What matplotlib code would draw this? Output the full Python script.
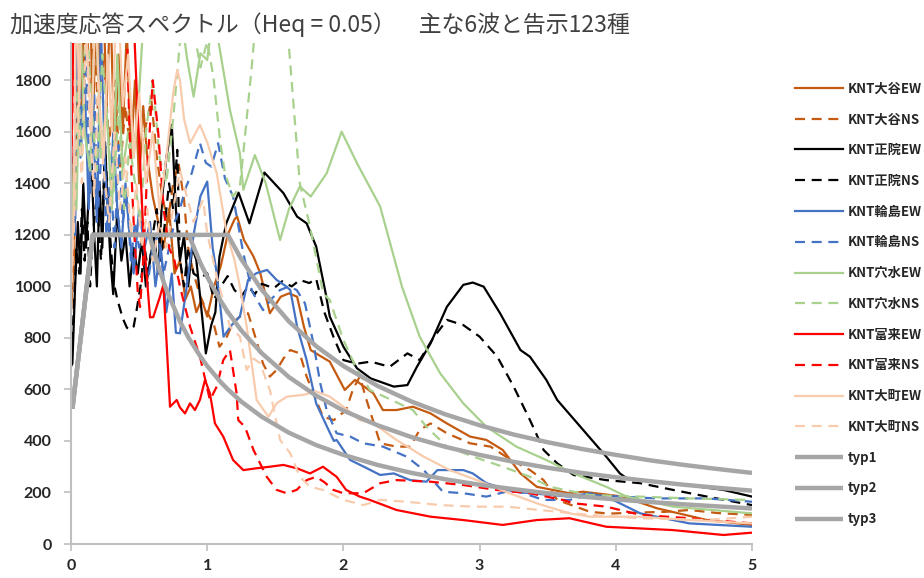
import matplotlib
matplotlib.use('Agg')
import matplotlib.pyplot as plt

# ---- data (period T [s], spectral acceleration [gal]) ----
oya_ew_t = [0, 0.02, 0.04, 0.06, 0.08, 0.10, 0.12, 0.14, 0.16, 0.18, 0.20, 0.23, 0.26, 0.29, 0.32, 0.35,
            0.38, 0.41, 0.44, 0.47, 0.50, 0.53, 0.56, 0.60, 0.64, 0.68, 0.72, 0.76, 0.80, 0.84, 0.88, 0.92,
            0.96, 1.0, 1.05, 1.1, 1.15, 1.2, 1.22, 1.27, 1.34, 1.39, 1.46, 1.54, 1.60, 1.66, 1.71, 1.76,
            1.83, 1.90, 2.01, 2.085, 2.22, 2.29, 2.39, 2.51, 2.64, 2.76, 2.93, 3.05, 3.17, 3.30, 3.42, 3.66,
            3.76, 4.05, 4.30, 4.67, 5.0]
oya_ew_v = [900, 1100, 1500, 2100, 1700, 2300, 1900, 2200, 1600, 2000, 1800, 2300, 1700, 2100, 1500, 1900,
            1600, 2000, 1500, 1800, 1400, 1700, 1500, 1350, 1250, 1150, 1300, 1050, 1100, 950, 1000, 900,
            950, 883, 1000, 1080, 1200, 1260, 1271, 1180, 1116, 1051, 896, 960, 973, 960, 844, 753,
            730, 708, 598, 637, 585, 520, 520, 533, 507, 468, 417, 404, 365, 274, 222, 197,
            203, 184, 139, 93, 74]

oya_ns_t = [0, 0.02, 0.05, 0.08, 0.11, 0.14, 0.17, 0.20, 0.24, 0.28, 0.32, 0.36, 0.40, 0.44, 0.48, 0.52,
            0.56, 0.59, 0.63, 0.67, 0.71, 0.75, 0.79, 0.83, 0.86, 0.90, 0.95, 1.0, 1.05, 1.09, 1.14, 1.19,
            1.24, 1.30, 1.36, 1.41, 1.46, 1.51, 1.56, 1.61, 1.68, 1.73, 1.78, 1.85, 1.93, 2.02, 2.07, 2.12,
            2.17, 2.27, 2.39, 2.49, 2.56, 2.64, 2.76, 2.93, 3.08, 3.22, 3.37, 3.47, 3.57, 3.81, 3.95, 4.15,
            4.37, 4.54, 4.75, 5.0]
oya_ns_v = [1050, 1400, 1900, 1600, 2100, 1750, 2000, 1650, 1900, 1550, 1800, 1450, 1700, 1500, 1600, 1550,
            1650, 1724, 1500, 1350, 1250, 1400, 1478, 1336, 1150, 1050, 960, 900, 850, 766, 800, 860,
            883, 896, 792, 700, 650, 676, 720, 753, 740, 650, 585, 494, 481, 520, 600, 650,
            559, 391, 378, 378, 443, 468, 430, 391, 378, 330, 287, 248, 171, 125, 118, 122,
            125, 132, 120, 113]

shoin_ew_t = [0, 0.01, 0.03, 0.05, 0.07, 0.09, 0.11, 0.13, 0.15, 0.17, 0.19, 0.21, 0.23, 0.25, 0.27, 0.29,
              0.31, 0.34, 0.37, 0.40, 0.43, 0.46, 0.49, 0.52, 0.55, 0.58, 0.61, 0.64, 0.67, 0.70, 0.74, 0.77,
              0.80, 0.83, 0.86, 0.89, 0.92, 0.95, 0.99, 1.03, 1.06, 1.09, 1.14, 1.23, 1.31, 1.42, 1.56, 1.66,
              1.73, 1.80, 1.87, 1.90, 2.0, 2.1, 2.2, 2.37, 2.47, 2.54, 2.64, 2.76, 2.88, 2.95, 3.03, 3.15,
              3.30, 3.37, 3.49, 3.57, 3.76, 3.93, 4.03, 4.08, 4.42, 4.79, 5.0]
shoin_ew_v = [690, 700, 1000, 1250, 1050, 1400, 1150, 1350, 1500, 1200, 1000, 1400, 1150, 1560, 1300, 1100,
              970, 1300, 1100, 1200, 1000, 1150, 1050, 1180, 1000, 1100, 1200, 1050, 1350, 1500, 1627, 1300,
              1100, 1200, 1000, 1150, 1103, 950, 740, 850, 900, 1116, 1245, 1364, 1245, 1442, 1362, 1271,
              1245, 1155, 973, 883, 766, 682, 643, 611, 617, 688, 779, 921, 1006, 1015, 999, 896,
              753, 727, 637, 559, 443, 339, 274, 255, 236, 210, 184]

shoin_ns_t = [0, 0.02, 0.04, 0.06, 0.08, 0.10, 0.12, 0.14, 0.16, 0.19, 0.22, 0.25, 0.28, 0.31, 0.34, 0.38,
              0.41, 0.43, 0.46, 0.48, 0.51, 0.54, 0.57, 0.60, 0.63, 0.66, 0.69, 0.72, 0.75, 0.78, 0.80, 0.83,
              0.86, 0.90, 0.95, 1.0, 1.05, 1.10, 1.15, 1.20, 1.25, 1.30, 1.35, 1.40, 1.49, 1.55, 1.62, 1.68,
              1.75, 1.80, 1.86, 1.93, 2.0, 2.1, 2.2, 2.34, 2.47, 2.56, 2.66, 2.76, 2.88, 3.0, 3.13, 3.25,
              3.37, 3.47, 3.57, 3.69, 3.93, 4.18, 4.42, 4.67, 5.0]
shoin_ns_v = [720, 900, 1150, 1050, 1300, 1100, 1250, 1000, 1200, 1350, 1100, 1543, 1250, 1025, 950, 876,
              840, 831, 844, 902, 1000, 1150, 1050, 1200, 1300, 1100, 1250, 1400, 1300, 1530, 1103, 1000,
              1150, 1050, 1032, 1051, 950, 1000, 1040, 986, 960, 1000, 970, 1010, 993, 1020, 1000, 1025,
              1013, 1030, 900, 800, 714, 700, 708, 688, 740, 714, 800, 870, 850, 805, 727, 611,
              481, 365, 313, 268, 248, 236, 210, 184, 151]

wajima_ew_t = [0, 0.02, 0.045, 0.07, 0.10, 0.13, 0.16, 0.19, 0.22, 0.25, 0.28, 0.31, 0.34, 0.37, 0.40, 0.43,
               0.46, 0.50, 0.54, 0.58, 0.62, 0.66, 0.70, 0.74, 0.77, 0.80, 0.85, 0.90, 0.95, 1.0, 1.04, 1.07,
               1.12, 1.18, 1.24, 1.30, 1.36, 1.44, 1.51, 1.58, 1.61, 1.66, 1.73, 1.80, 1.88, 1.93, 1.95, 2.05,
               2.15, 2.27, 2.37, 2.49, 2.61, 2.69, 2.88, 2.95, 3.05, 3.25, 3.66, 3.81, 3.98, 4.18, 4.54, 5.0]
wajima_ew_v = [1130, 1250, 2100, 1500, 1800, 1300, 1700, 1250, 2000, 1465, 1200, 1600, 1300, 1150, 1400, 1200,
               1050, 1300, 1150, 1250, 1000, 1150, 900, 1050, 820, 818, 1000, 1200, 1350, 1407, 1150, 1051,
               805, 850, 883, 1025, 1051, 1064, 1025, 1000, 986, 844, 714, 546, 455, 400, 404, 326,
               300, 268, 274, 248, 242, 287, 287, 274, 236, 203, 184, 197, 171, 119, 80, 67]

wajima_ns_t = [0, 0.015, 0.03, 0.05, 0.08, 0.11, 0.14, 0.17, 0.20, 0.23, 0.26, 0.29, 0.32, 0.35, 0.38, 0.41,
               0.44, 0.47, 0.50, 0.53, 0.56, 0.60, 0.64, 0.68, 0.72, 0.76, 0.80, 0.84, 0.886, 0.947, 0.99, 1.03,
               1.08, 1.13, 1.19, 1.265, 1.33, 1.41, 1.47, 1.535, 1.60, 1.657, 1.718, 1.78, 1.83, 1.877, 1.95, 2.05,
               2.146, 2.29, 2.465, 2.59, 2.73, 2.88, 3.05, 3.25, 3.47, 3.66, 3.81, 4.3, 4.67, 5.0]
wajima_ns_v = [1150, 1500, 1200, 2000, 1600, 1900, 1350, 1750, 1300, 1600, 1200, 1450, 1150, 1550, 1250, 1350,
               1100, 1250, 1150, 1200, 1000, 1150, 1200, 1050, 1150, 1250, 1300, 1380, 1439, 1556, 1480, 1465,
               1556, 1420, 1349, 1129, 980, 908, 950, 986, 1000, 986, 934, 779, 624, 520, 430, 417,
               391, 378, 339, 287, 203, 197, 184, 210, 171, 171, 190, 177, 177, 164]

anamizu_ew_t = [0, 0.02, 0.04, 0.07, 0.10, 0.14, 0.18, 0.22, 0.26, 0.30, 0.34, 0.38, 0.42, 0.46, 0.50, 0.55,
                0.60, 0.65, 0.70, 0.75, 0.80, 0.85, 0.90, 0.95, 1.0, 1.04, 1.08, 1.167, 1.24, 1.265, 1.35, 1.43,
                1.535, 1.60, 1.68, 1.76, 1.877, 1.987, 2.1, 2.27, 2.43, 2.56, 2.71, 2.88, 3.05, 3.27, 3.49, 3.69,
                3.93, 4.08, 4.42, 5.0]
anamizu_ew_v = [1180, 1500, 1300, 2000, 1600, 1450, 2100, 1500, 1700, 1300, 1900, 1450, 1600, 1500, 1750, 2200,
                2400, 2300, 2600, 2300, 2100, 1892, 1737, 1905, 1879, 2050, 1960, 1685, 1517, 1375, 1510, 1400,
                1180, 1300, 1388, 1349, 1439, 1601, 1478, 1310, 999, 805, 663, 546, 455, 378, 326, 274,
                222, 184, 145, 119]

anamizu_ns_t = [0, 0.02, 0.05, 0.08, 0.11, 0.15, 0.19, 0.23, 0.27, 0.31, 0.35, 0.39, 0.43, 0.47, 0.51, 0.55,
                0.60, 0.65, 0.70, 0.75, 0.80, 0.85, 0.90, 0.95, 1.0, 1.045, 1.094, 1.13, 1.19, 1.24, 1.265, 1.327,
                1.40, 1.50, 1.596, 1.68, 1.755, 1.852, 1.90, 2.0, 2.1, 2.195, 2.35, 2.51, 2.61, 2.76, 2.954, 3.17,
                3.37, 3.517, 3.81, 4.18, 4.54, 5.0]
anamizu_ns_v = [1200, 1400, 1800, 1500, 2100, 1700, 1450, 1900, 1600, 1350, 1700, 1300, 1550, 1400, 1250, 1600,
                1800, 1500, 1400, 1650, 1950, 2200, 2000, 1850, 1950, 1815, 1569, 1439, 1349, 1388, 1517, 1853,
                2300, 2500, 1957, 1400, 1232, 973, 947, 792, 676, 598, 560, 520, 455, 378, 339, 300,
                261, 222, 190, 184, 177, 171]

togi_ew_t = [0, 0.02, 0.04, 0.07, 0.10, 0.13, 0.16, 0.20, 0.24, 0.28, 0.32, 0.36, 0.40, 0.44, 0.48, 0.53,
             0.58, 0.604, 0.653, 0.678, 0.70, 0.727, 0.776, 0.80, 0.837, 0.874, 0.91, 0.947, 0.984, 1.02, 1.057, 1.118,
             1.19, 1.265, 1.363, 1.46, 1.56, 1.657, 1.755, 1.85, 1.95, 2.02, 2.12, 2.195, 2.39, 2.64, 2.88, 3.17,
             3.42, 3.66, 3.93, 4.42, 4.79, 5.0]
togi_ew_v = [1400, 2100, 2500, 2200, 2600, 2300, 2700, 2400, 2600, 2200, 2500, 2300, 2600, 2300, 1789, 1219,
             880, 881, 960, 1006, 800, 533, 559, 530, 507, 546, 520, 560, 637, 585, 468, 417,
             326, 287, 294, 300, 307, 294, 274, 300, 261, 210, 184, 171, 132, 106, 93, 74,
             93, 100, 67, 54, 35, 44]

togi_ns_t = [0, 0.01, 0.02, 0.04, 0.07, 0.10, 0.13, 0.16, 0.20, 0.24, 0.28, 0.32, 0.36, 0.41, 0.43, 0.46,
             0.49, 0.507, 0.53, 0.56, 0.60, 0.64, 0.68, 0.72, 0.76, 0.80, 0.874, 0.947, 1.02, 1.07, 1.118, 1.167,
             1.216, 1.228, 1.277, 1.34, 1.388, 1.437, 1.51, 1.584, 1.657, 1.73, 1.80, 1.86, 1.926, 2.0, 2.146, 2.27,
             2.39, 2.636, 2.88, 3.125, 3.37, 3.61, 3.69, 3.93, 4.18, 4.54, 5.0]
togi_ns_v = [1480, 1650, 2300, 2600, 2300, 2700, 2400, 2600, 2300, 2500, 2200, 2600, 2300, 2000, 1600, 1250,
             980, 920, 1100, 1450, 1800, 1600, 1300, 1150, 1100, 1000, 844, 727, 559, 611, 714, 753,
             585, 481, 455, 365, 313, 261, 210, 197, 210, 248, 261, 240, 210, 197, 197, 236,
             248, 242, 229, 210, 197, 171, 158, 145, 113, 100, 80]

omachi_ew_t = [0, 0.02, 0.04, 0.06, 0.09, 0.12, 0.15, 0.18, 0.21, 0.24, 0.27, 0.30, 0.34, 0.38, 0.42, 0.46,
               0.50, 0.55, 0.60, 0.65, 0.70, 0.75, 0.78, 0.80, 0.83, 0.874, 0.947, 1.0, 1.07, 1.143, 1.20, 1.24,
               1.29, 1.363, 1.45, 1.51, 1.584, 1.706, 1.80, 1.90, 2.0, 2.12, 2.22, 2.39, 2.59, 2.78, 2.98, 3.22,
               3.42, 3.66, 3.81, 4.18, 4.54, 5.0]
omachi_ew_v = [1000, 1300, 2200, 1700, 2400, 1900, 1600, 2100, 1700, 1500, 1900, 1600, 2200, 1700, 1900, 1500,
               1750, 1400, 1600, 1300, 1500, 1750, 1840, 1800, 1650, 1556, 1627, 1560, 1439, 1206, 1103, 1000,
               844, 559, 494, 546, 572, 579, 592, 572, 533, 481, 468, 404, 339, 287, 248, 197,
               158, 119, 106, 106, 93, 80]

omachi_ns_t = [0, 0.02, 0.05, 0.08, 0.11, 0.14, 0.17, 0.20, 0.24, 0.28, 0.32, 0.36, 0.40, 0.44, 0.48, 0.52,
               0.56, 0.60, 0.65, 0.70, 0.75, 0.80, 0.85, 0.90, 0.97, 1.0, 1.07, 1.167, 1.24, 1.29, 1.34, 1.388,
               1.46, 1.535, 1.61, 1.68, 1.755, 1.85, 2.0, 2.1, 2.146, 2.27, 2.465, 2.71, 2.954, 3.2, 3.44, 3.81,
               4.18, 4.67, 5.0]
omachi_ns_v = [950, 1200, 1700, 1400, 2000, 1600, 1350, 1800, 1450, 1250, 1600, 1300, 1500, 1200, 1400, 1150,
               1300, 1100, 1250, 1150, 1300, 1450, 1350, 1250, 1336, 1206, 1038, 844, 805, 676, 720, 702,
               598, 404, 352, 261, 222, 210, 171, 158, 151, 171, 164, 151, 145, 145, 132, 113,
               100, 93, 106]

# notification spectra (typ1/2/3)
typ_t = [0.01, 0.16, 0.576, 0.64, 0.70, 0.80, 0.864, 0.95, 1.0, 1.1, 1.152, 1.25, 1.4, 1.6, 1.8, 2.0,
         2.25, 2.5, 2.75, 3.0, 3.25, 3.5, 3.75, 4.0, 4.25, 4.5, 4.75, 5.0]
typ1_v = [525, 1200, 1200, 1080, 987, 864, 800, 728, 691, 628, 600, 553, 494, 432, 384, 346,
          307, 276, 251, 230, 213, 197, 184, 173, 163, 154, 146, 138]
typ2_v = [525, 1200, 1200, 1200, 1200, 1200, 1200, 1091, 1037, 943, 900, 829, 741, 648, 576, 518,
          461, 415, 377, 346, 319, 296, 276, 259, 244, 230, 218, 207]
typ3_v = [525, 1200, 1200, 1200, 1200, 1200, 1200, 1200, 1200, 1200, 1200, 1106, 987, 864, 768, 691,
          614, 553, 503, 461, 425, 395, 369, 346, 325, 307, 291, 276]

labels = ['KNT大谷EW', 'KNT大谷NS', 'KNT正院EW', 'KNT正院NS', 'KNT輪島EW', 'KNT輪島NS',
          'KNT穴水EW', 'KNT穴水NS', 'KNT富来EW', 'KNT富来NS', 'KNT大町EW', 'KNT大町NS',
          'typ1', 'typ2', 'typ3']

series = [(oya_ew_t, oya_ew_v), (oya_ns_t, oya_ns_v),
          (shoin_ew_t, shoin_ew_v), (shoin_ns_t, shoin_ns_v),
          (wajima_ew_t, wajima_ew_v), (wajima_ns_t, wajima_ns_v),
          (anamizu_ew_t, anamizu_ew_v), (anamizu_ns_t, anamizu_ns_v),
          (togi_ew_t, togi_ew_v), (togi_ns_t, togi_ns_v),
          (omachi_ew_t, omachi_ew_v), (omachi_ns_t, omachi_ns_v),
          (typ_t, typ1_v), (typ_t, typ2_v), (typ_t, typ3_v)]

station_colors = ['#C55A11', '#000000', '#4472C4', '#A9D18E', '#FF0000', '#F8CBAD']
dash = (0, (4.5, 3))

fig = plt.figure(figsize=(9.24, 5.78), dpi=100)
ax = fig.add_axes([71 / 924, 34 / 578, 681 / 924, 501 / 578])

for i, (t, v) in enumerate(series):
    if i < 12:
        c = station_colors[i // 2]
        ls = '-' if i % 2 == 0 else dash
        ax.plot(t, v, color=c, linestyle=ls, linewidth=1.6, label=labels[i])
    else:
        ax.plot(t, v, color='#A6A6A6', linewidth=3.2, solid_capstyle='butt', label=labels[i])

ax.set_xlim(0, 5)
ax.set_ylim(0, 1945)
ax.set_xticks(range(0, 6))
ax.set_yticks(range(0, 2000, 200))

for side in ['top', 'right']:
    ax.spines[side].set_visible(False)
for side in ['left', 'bottom']:
    ax.spines[side].set_color('#BFBFBF')
    ax.spines[side].set_linewidth(1.5)
ax.tick_params(axis='both', direction='out', length=5, width=1.2, color='#BFBFBF',
               labelsize=11.5, labelcolor='#262626')
ax.tick_params(axis='y', pad=9)
ax.tick_params(axis='x', pad=6)
for lab in ax.get_xticklabels() + ax.get_yticklabels():
    lab.set_family(['Lato', 'DejaVu Sans'])
    lab.set_fontweight('bold')

fig.text(10 / 924, 1 - 25 / 578, '加速度応答スペクトル（Heq = 0.05）　主な6波と告示123種',
         family=['Noto Sans CJK JP', 'DejaVu Sans'], fontsize=16.5, color='#404040',
         va='center', ha='left')

leg = ax.legend(loc='upper left', bbox_to_anchor=(788 / 924, 1 - 75 / 578),
                bbox_transform=fig.transFigure, frameon=False, borderpad=0,
                handlelength=3.7, handletextpad=0.3, labelspacing=1.27,
                prop={'family': ['Noto Sans CJK JP', 'DejaVu Sans'], 'size': 9.5, 'weight': 'bold'})
for txt in leg.get_texts():
    txt.set_color('#262626')

fig.savefig('out.png', dpi=100)
